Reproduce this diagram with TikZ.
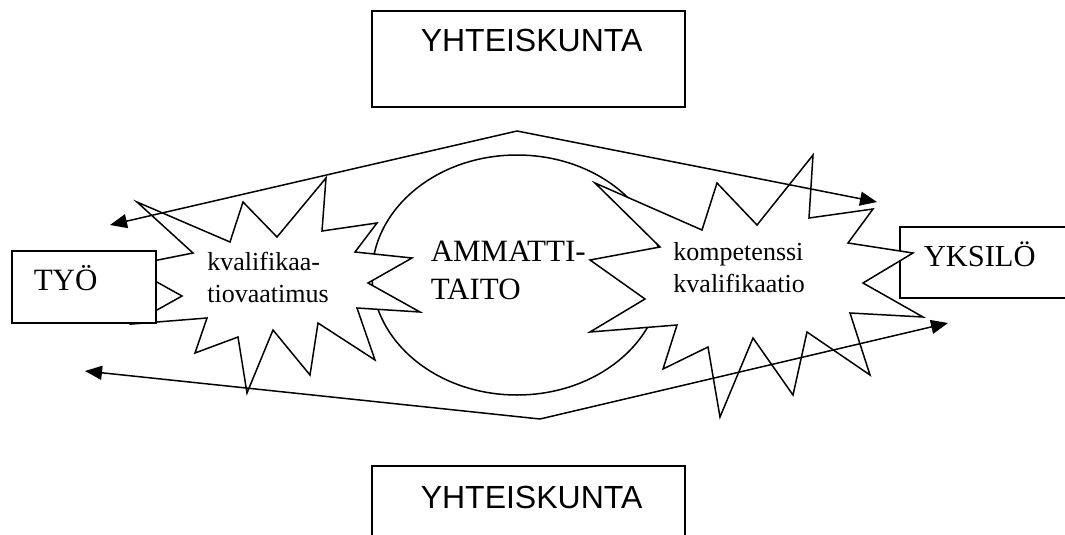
\documentclass[tikz,border=0pt]{standalone}
\usepackage{fontspec}
\setmainfont{Liberation Serif}
\newfontfamily\arialfont{Liberation Sans}
\usetikzlibrary{arrows.meta}
\begin{document}
\begin{tikzpicture}[x=1pt,y=-1pt,line width=1.5pt,
  box/.style={draw,fill=white,rectangle,inner sep=0pt},
  burst/.style={draw,fill=white,line join=miter,miter limit=20},
  arr/.style={-{Triangle[length=17pt,width=14pt]}},
  sanslbl/.style={anchor=base west,inner sep=0pt,font=\arialfont\fontsize{32}{38}\selectfont},
  biglbl/.style={anchor=base west,inner sep=0pt,font=\fontsize{31}{37}\selectfont},
  smalllbl/.style={anchor=base west,inner sep=0pt,font=\fontsize{26}{31}\selectfont}]
\clip (0,0) rectangle (1065,535);
\fill[white] (0,0) rectangle (1065,535);

% society boxes above and below
\node[box,minimum width=313pt,minimum height=96pt] (soctop) at (528.5,59) {};
\node[box,minimum width=313pt,minimum height=140pt] (socbot) at (528.5,536) {};

% central ellipse
\draw (517,275) ellipse [x radius=145, y radius=120];

% individual box (partly covered by the right burst)
\node[box,minimum width=200pt,minimum height=71pt] (yksilo) at (1000,262.5) {};

% left burst
\draw[burst] (137,202) -- (193,253) -- (128,266) -- (182,296) -- (132,324)
  -- (207,318) -- (195,353) -- (238,337) -- (247,393) -- (273,330)
  -- (310,375) -- (318,323) -- (375,360) -- (357,308) -- (420,312)
  -- (368,283) -- (412,258) -- (355,252) -- (377,223) -- (322,231)
  -- (326,178) -- (277,237) -- (243,202) -- (230,242) -- cycle;

% right burst
\draw[burst] (813,155) -- (809,218) -- (873,209) -- (848,243) -- (913,253)
  -- (863,283) -- (923,317) -- (850,313) -- (870,375) -- (807,332)
  -- (793,395) -- (753,338) -- (720,417) -- (708,347) -- (663,369)
  -- (677,325) -- (590,332) -- (645,299) -- (590,260) -- (660,247)
  -- (595,183) -- (702,230) -- (717,183) -- (757,225) -- cycle;

% work box over the left burst
\node[box,minimum width=144pt,minimum height=72pt] (tyo) at (84,287) {};

% arrows
\coordinate (upapex) at (517,131);
\coordinate (upleft) at (110,225);
\coordinate (upright) at (877,202);
\coordinate (lowapex) at (540,419);
\coordinate (lowleft) at (85,371);
\coordinate (lowright) at (948,323);
\draw[arr] (upapex) -- (upleft);
\draw[arr] (upapex) -- (upright);
\draw[arr] (lowapex) -- (lowleft);
\draw[arr] (lowapex) -- (lowright);

% labels
\node[sanslbl] (soctoptxt) at (420,51.7) {YHTEISKUNTA};
\node[sanslbl] (socbottxt) at (420,508) {YHTEISKUNTA};
\node[biglbl] (tyotxt) at (33,290.7) {TYÖ};
\node[biglbl,font=\fontsize{30.5}{36}\selectfont] (yksilotxt) at (923,266.7) {YKSILÖ};
\node[biglbl] (amm1) at (430,261.7) {AMMATTI-};
\node[biglbl] (amm2) at (430,299) {TAITO};
\node[smalllbl] (kv1) at (206.7,270) {kvalifikaa-};
\node[smalllbl] (kv2) at (206.7,302) {tiovaatimus};
\node[smalllbl] (ko1) at (672.7,260) {kompetenssi};
\node[smalllbl] (ko2) at (672.7,292) {kvalifikaatio};
\end{tikzpicture}
\end{document}
